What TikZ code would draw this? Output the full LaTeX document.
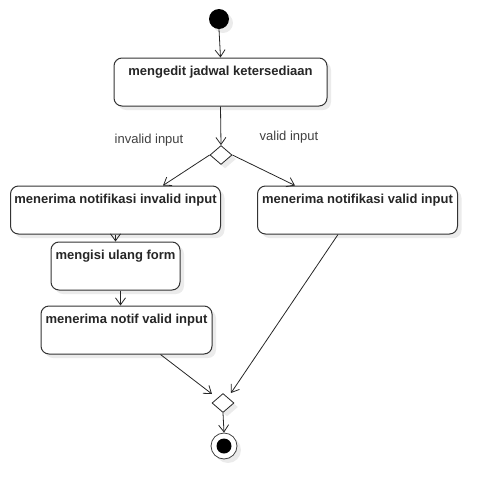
\documentclass[tikz,border=0pt]{standalone}
\usepackage{fontspec}
\setmainfont{Liberation Sans}
\usetikzlibrary{arrows.meta,shapes.geometric,shadows,calc}
\begin{document}
\begin{tikzpicture}[x=1pt,y=-1pt,
  shd/.style={drop shadow={shadow xshift=4pt,shadow yshift=-4pt,fill=black!8,opacity=1}},
  act/.style={draw=black!80,line width=1pt,rounded corners=8pt,fill=white,shd,inner sep=0pt},
  acttext/.style={font=\fontsize{13}{15}\selectfont\bfseries,text=black!85,anchor=north,inner sep=0pt},
  dec/.style={draw=black!85,line width=0.8pt,shape=diamond,fill=white,shd,inner sep=0pt,minimum width=22pt,minimum height=19pt,aspect=1.15},
  lbl/.style={font=\fontsize{13}{15}\selectfont,text=black!75,inner sep=0pt},
  flow/.style={draw=black!85,line width=0.8pt,-{Straight Barb[length=7pt,width=10pt]}}
]
\useasboundingbox (0,0) rectangle (497,499);
% start
\node[circle,fill=black,minimum size=20pt,inner sep=0pt,shd] (start) at (219,19) {};
% activities
\node[act,minimum width=213pt,minimum height=48pt] (b1) at (220.5,82) {};
\node[acttext] (t1) at ($(b1.north)+(0,8)$) {mengedit jadwal ketersediaan};
\node[dec] (d1) at (221,155) {};
\node[lbl] (linv) at (149,140) {invalid input};
\node[lbl] (lval) at (289,137) {valid input};
\node[act,minimum width=210pt,minimum height=48pt] (b2) at (115.5,210) {};
\node[acttext] (t2) at ($(b2.north)+(0,8)$) {menerima notifikasi invalid input};
\node[act,minimum width=200pt,minimum height=48pt] (b5) at (357.5,210) {};
\node[acttext] (t5) at ($(b5.north)+(0,8)$) {menerima notifikasi valid input};
\node[act,minimum width=129pt,minimum height=48pt] (b3) at (115.5,266) {};
\node[acttext] (t3) at ($(b3.north)+(0,8)$) {mengisi ulang form};
\node[act,minimum width=171pt,minimum height=48pt] (b4) at (126.5,330) {};
\node[acttext] (t4) at ($(b4.north)+(0,8)$) {menerima notif valid input};
\node[dec] (d2) at (223,403) {};
% end
\node[circle,draw=black!75,line width=0.8pt,fill=white,minimum size=26pt,inner sep=0pt,shd] (endo) at (224,446) {};
\node[circle,fill=black,minimum size=15pt,inner sep=0pt] (endi) at (endo.center) {};
% flows
\draw[flow] (start.south) -- (b1.north);
\draw[flow] (b1.south) -- (d1.north);
\draw[flow] (d1.west) -- ($(b2.north west)+(153,0)$);
\draw[flow] (d1.east) -- ($(b5.north west)+(38,0)$);
\draw[flow] (b2.south) -- (b3.north);
\draw[flow] ($(b3.south west)+(70,0)$) -- ($(b4.north west)+(80,0)$);
\draw[flow] ($(b4.south west)+(120,0)$) -- ($(d2.center)+(-11,-9)$);
\draw[flow] ($(b5.south west)+(81,0)$) -- ($(d2.center)+(8,-10)$);
\draw[flow] (d2.south) -- (endo.north);
\end{tikzpicture}
\end{document}
